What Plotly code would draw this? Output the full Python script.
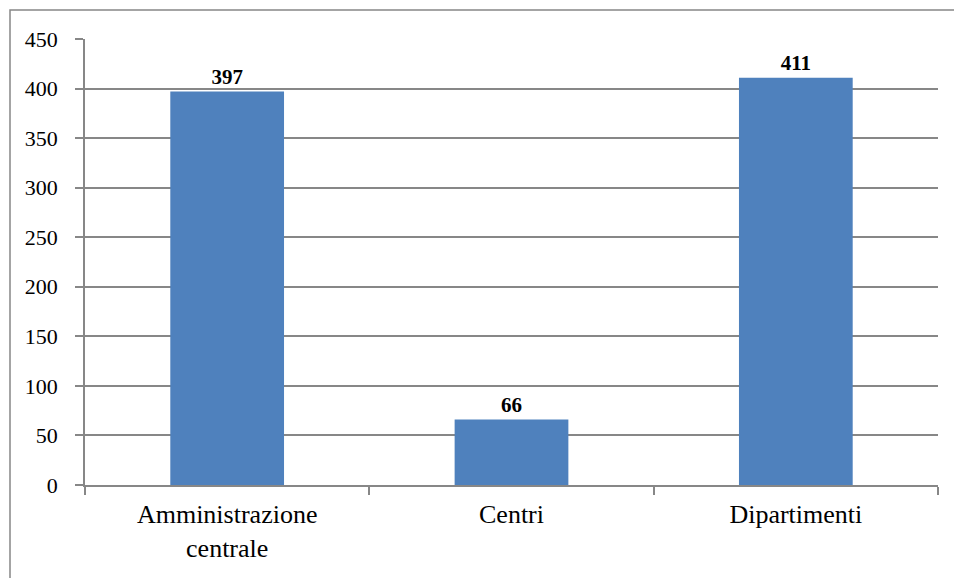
import plotly.graph_objects as go

categories = ["Amministrazione<br>centrale", "Centri", "Dipartimenti"]
values = [397, 66, 411]
y_ticks = [0, 50, 100, 150, 200, 250, 300, 350, 400, 450]

L, R, T, B = 85, 16, 39, 93
W, H = 954, 578
pw, ph = W - L - R, H - T - B
FONT = "Liberation Serif"

fig = go.Figure(go.Bar(
    x=categories, y=values, width=0.4,
    marker=dict(color="#4F81BD", line=dict(width=0)),
    text=[str(v) for v in values], textposition="outside",
    textfont=dict(family=FONT, size=21, color="#000000", weight="bold"),
    cliponaxis=False,
))

gray = "#878787"
fig.update_layout(
    width=W, height=H,
    margin=dict(l=L, r=R, t=T, b=B),
    paper_bgcolor="white", plot_bgcolor="white",
    showlegend=False,
    font=dict(family=FONT, color="#000000"),
    xaxis=dict(
        showline=True, linecolor=gray, linewidth=1.5,
        ticks="outside", tickson="boundaries", ticklen=8, tickcolor=gray, tickwidth=1.5,
        tickfont=dict(family=FONT, size=26), showgrid=False,
        ticklabelstandoff=5,
    ),
    yaxis=dict(
        range=[0, 450], tickvals=y_ticks,
        showline=True, linecolor=gray, linewidth=1.5,
        ticks="outside", ticklen=8, tickcolor=gray, tickwidth=1.5,
        showgrid=True, gridcolor=gray, gridwidth=1.5,
        tickfont=dict(family=FONT, size=22), zeroline=False,
        ticklabelstandoff=13,
    ),
    shapes=[dict(
        type="rect", xref="paper", yref="paper",
        x0=(10 - L) / pw, x1=(W + 10 - L) / pw,
        y0=(H - B - (H + 10)) / ph, y1=(H - B - 10) / ph,
        line=dict(color=gray, width=1.5), fillcolor="rgba(0,0,0,0)", layer="below",
    )],
)

fig.write_html("out.html")
